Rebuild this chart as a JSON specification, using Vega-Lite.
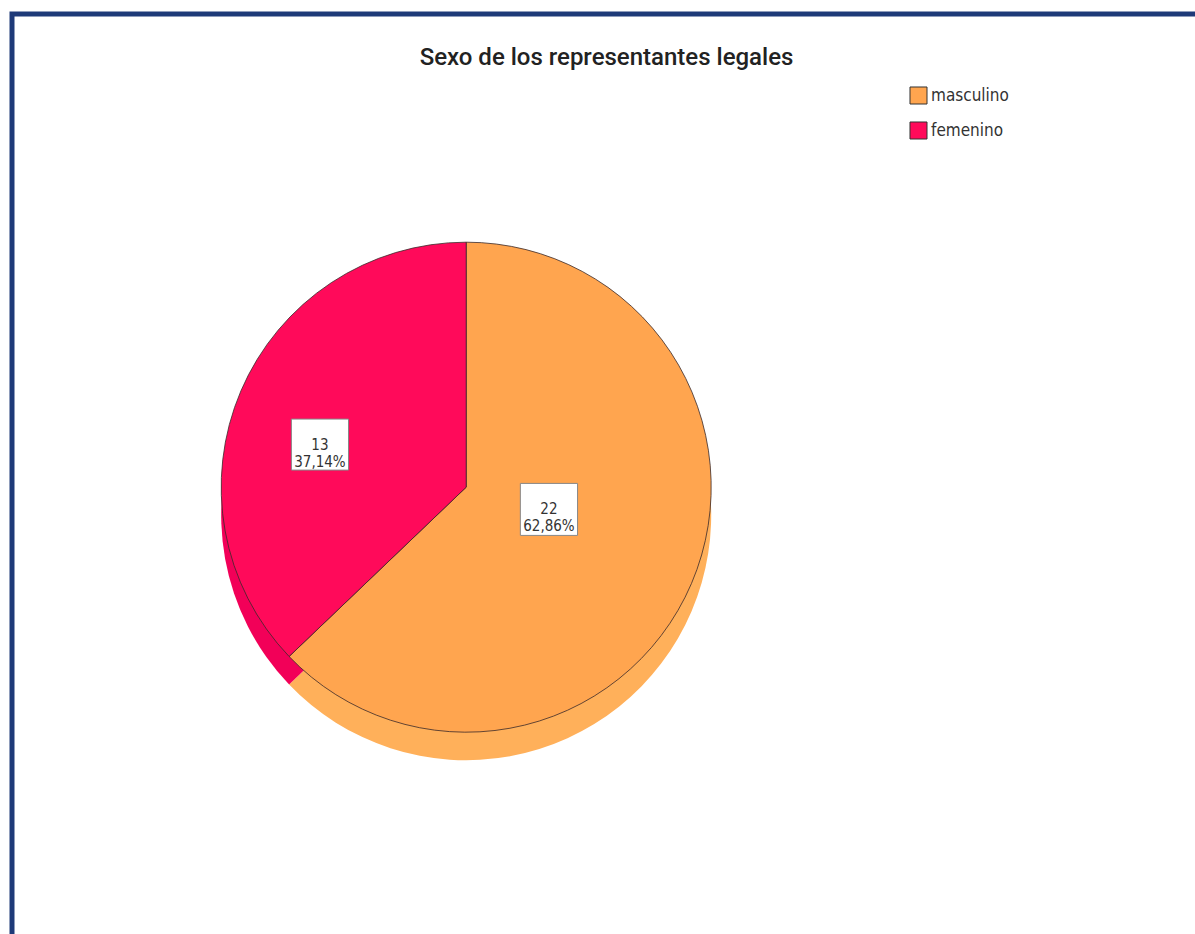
{
  "$schema": "https://vega.github.io/schema/vega-lite/v6.json",
  "width": 1195,
  "height": 934,
  "autosize": {"type": "fit", "contains": "padding"},
  "padding": {"left": 12, "top": 14, "right": -6, "bottom": -6},
  "background": "white",
  "config": {
    "view": {"stroke": "#1e3a78", "strokeWidth": 5},
    "font": "Roboto"
  },
  "title": {
    "text": "Sexo de los representantes legales",
    "font": "Roboto",
    "fontSize": 24,
    "fontWeight": 500,
    "color": "#222222",
    "anchor": "middle",
    "offset": -56
  },
  "data": {
    "values": [
      {"sexo": "masculino", "orden": 1, "n": 22, "etiqueta": "22\n62,86%"},
      {"sexo": "femenino", "orden": 2, "n": 13, "etiqueta": "13\n37,14%"}
    ]
  },
  "encoding": {
    "x": {"datum": 0.382, "type": "quantitative", "scale": {"domain": [0, 1]}, "axis": null},
    "y": {"datum": 0.489, "type": "quantitative", "scale": {"domain": [0, 1]}, "axis": null}
  },
  "layer": [
    {
      "mark": {"type": "arc", "radius": 245, "yOffset": 28},
      "encoding": {
        "theta": {"field": "n", "type": "quantitative", "stack": true},
        "order": {"field": "orden", "type": "quantitative"},
        "color": {
          "field": "sexo", "type": "nominal", "legend": null,
          "scale": {"domain": ["masculino", "femenino"], "range": ["#ffb05a", "#f20058"]}
        }
      }
    },
    {
      "mark": {"type": "arc", "radius": 245, "stroke": "#3a2a2a", "strokeWidth": 0.8},
      "encoding": {
        "theta": {"field": "n", "type": "quantitative", "stack": true},
        "order": {"field": "orden", "type": "quantitative"},
        "color": {
          "field": "sexo", "type": "nominal",
          "scale": {"domain": ["masculino", "femenino"], "range": ["#ffa54f", "#ff0a5a"]},
          "legend": {
            "title": null,
            "orient": "none",
            "legendX": 897,
            "legendY": 72,
            "symbolType": "square",
            "symbolSize": 290,
            "symbolStrokeColor": "#333333",
            "symbolStrokeWidth": 1,
            "symbolOpacity": 1,
            "labelFont": "DejaVu Sans Condensed",
            "labelFontSize": 17,
            "labelColor": "#333333",
            "labelOffset": 3,
            "rowPadding": 12
          }
        }
      }
    },
    {
      "transform": [{"filter": "datum.sexo === 'femenino'"}],
      "encoding": {
        "x": {"datum": 0.259},
        "y": {"datum": 0.535}
      },
      "layer": [
        {
          "mark": {
            "type": "point",
            "shape": "M -1.12 -1 L 1.12 -1 L 1.12 1 L -1.12 1 Z",
            "size": 2601,
            "filled": true,
            "fill": "white",
            "stroke": "#888888",
            "strokeWidth": 1,
            "opacity": 1
          }
        },
        {
          "mark": {
            "type": "text",
            "lineBreak": "\n",
            "font": "DejaVu Sans Condensed",
            "fontSize": 15,
            "color": "#333333",
            "align": "center",
            "baseline": "middle",
            "lineHeight": 17
          },
          "encoding": {"text": {"field": "etiqueta"}}
        }
      ]
    },
    {
      "transform": [{"filter": "datum.sexo === 'masculino'"}],
      "encoding": {
        "x": {"datum": 0.4516},
        "y": {"datum": 0.465}
      },
      "layer": [
        {
          "mark": {
            "type": "point",
            "shape": "M -1.1 -1 L 1.1 -1 L 1.1 1 L -1.1 1 Z",
            "size": 2704,
            "filled": true,
            "fill": "white",
            "stroke": "#888888",
            "strokeWidth": 1,
            "opacity": 1
          }
        },
        {
          "mark": {
            "type": "text",
            "lineBreak": "\n",
            "font": "DejaVu Sans Condensed",
            "fontSize": 15,
            "color": "#333333",
            "align": "center",
            "baseline": "middle",
            "lineHeight": 17
          },
          "encoding": {"text": {"field": "etiqueta"}}
        }
      ]
    }
  ],
  "resolve": {"scale": {"color": "independent"}, "legend": {"color": "independent"}}
}
